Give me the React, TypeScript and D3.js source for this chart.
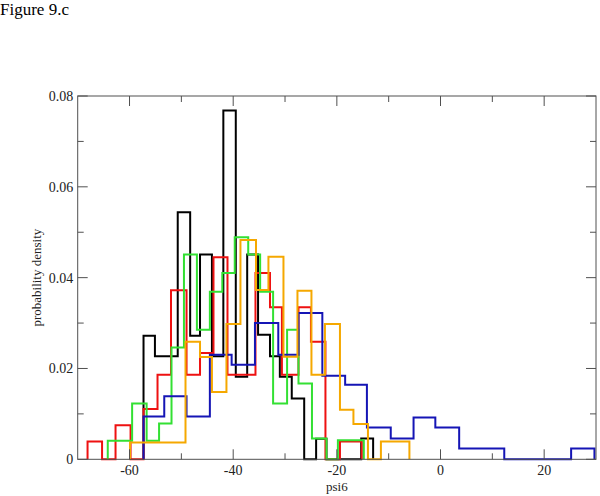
import React, { useEffect, useRef } from 'react'
import * as d3 from 'd3'

// bin edges (psi6) and probability density per bin
const blackEdges = [-57.3, -55.1, -50.7, -48.3, -46.4, -44.1, -41.9, -39.5, -37.3, -35.2, -32.9, -31.0, -28.7, -26.3, -24.0, -22.0, -15.3, -13.0]
const blackDensity = [0.0272, 0.0227, 0.0544, 0.0272, 0.0451, 0.0227, 0.0768, 0.0182, 0.0451, 0.0274, 0.0227, 0.0182, 0.0134, 0, 0.0045, 0, 0.0046]

const redEdges = [-68.1, -65.3, -62.7, -59.8, -57.3, -54.6, -52.0, -49.0, -46.4, -43.8, -41.1, -38.4, -35.7, -32.9, -30.6, -27.4, -25.0, -22.2, -19.4, -15.2]
const redDensity = [0.0039, 0, 0.0075, 0, 0.0111, 0.0186, 0.0372, 0.0186, 0.0234, 0.0445, 0.0186, 0.0186, 0.041, 0.0335, 0.0186, 0.0335, 0.0259, 0, 0.0039]

const greenEdges = [-64.2, -59.5, -56.7, -54.3, -51.9, -49.5, -47.0, -44.5, -42.1, -39.7, -37.1, -34.8, -32.3, -29.6, -27.4, -24.8, -22.0, -19.8, -14.8]
const greenDensity = [0.0041, 0.0123, 0.0041, 0.0079, 0.0246, 0.0451, 0.0285, 0.0369, 0.041, 0.0489, 0.0451, 0.0369, 0.0123, 0.0285, 0.0167, 0.0046, 0, 0.0042]

const blueEdges = [-57.3, -53.3, -49.0, -44.5, -40.3, -35.8, -31.3, -27.4, -22.8, -18.4, -14.2, -9.6, -5.2, -1.0, 3.6, 12.3, 25.2, 29.7]
const blueDensity = [0.0094, 0.0139, 0.0094, 0.023, 0.0208, 0.030, 0.023, 0.0322, 0.0184, 0.0164, 0.007, 0.0046, 0.0092, 0.007, 0.0024, 0, 0.0024]

const orangeEdges = [-59.9, -49.2, -46.4, -44.1, -41.3, -38.6, -35.6, -33.2, -30.3, -27.6, -24.9, -22.3, -19.4, -16.8, -14.0, -11.5, -6.0]
const orangeDensity = [0.0037, 0.0259, 0.0225, 0.0148, 0.0298, 0.0483, 0.0373, 0.0446, 0.0226, 0.0371, 0.0186, 0.0298, 0.0109, 0.0078, 0, 0.0039]

const xMajor = [-60, -40, -20, 0, 20]
const xMinor = [-50, -30, -10, 10]
const yMajor = [0, 0.02, 0.04, 0.06, 0.08]
const yMinor = [0.01, 0.03, 0.05, 0.07]

const series = [
    { edges: blackEdges, density: blackDensity, color: '#000000' },
    { edges: redEdges, density: redDensity, color: '#ee1111' },
    { edges: greenEdges, density: greenDensity, color: '#33e033' },
    { edges: blueEdges, density: blueDensity, color: '#1515b5' },
    { edges: orangeEdges, density: orangeDensity, color: '#f5a800' },
]

const App = () => {
    const ref = useRef<SVGSVGElement>(null)

    useEffect(() => {
        const width = 600
        const height = 496
        const marginLeft = 77.7
        const marginRight = 4
        const marginTop = 96
        const marginBottom = 36.7
        const font = '"Liberation Serif", "Times New Roman", serif'
        const frame = '#505050'

        const svg = d3.select(ref.current)
        svg.selectAll('*').remove()

        const xScale = d3.scaleLinear()
            .domain([-70, 30])
            .range([marginLeft, width - marginRight])

        const yScale = d3.scaleLinear()
            .domain([0, 0.08])
            .range([height - marginBottom, marginTop])

        svg.append('text')
            .attr('x', 0)
            .attr('y', 15)
            .attr('font-family', font)
            .attr('font-size', 17)
            .text('Figure 9.c')

        // histograms as step outlines
        const line = d3.line<[number, number]>()
            .x(d => xScale(d[0]))
            .y(d => yScale(d[1]))

        series.forEach(s => {
            const pts: [number, number][] = [[s.edges[0], 0]]
            s.density.forEach((v, i) => {
                pts.push([s.edges[i], v])
                pts.push([s.edges[i + 1], v])
            })
            pts.push([s.edges[s.edges.length - 1], 0])
            svg.append('path')
                .attr('d', line(pts))
                .attr('fill', 'none')
                .attr('stroke', s.color)
                .attr('stroke-width', 2)
                .attr('stroke-linejoin', 'miter')
        })

        // frame with inward ticks on all four sides
        const x0 = xScale.range()[0], x1 = xScale.range()[1]
        const y0 = yScale.range()[0], y1 = yScale.range()[1]

        svg.append('rect')
            .attr('x', x0)
            .attr('y', y1)
            .attr('width', x1 - x0)
            .attr('height', y0 - y1)
            .attr('fill', 'none')
            .attr('stroke', frame)
            .attr('stroke-width', 1)

        const ticks = svg.append('g').attr('stroke', frame).attr('stroke-width', 1)
        const xt = [...xMajor.map(v => ({ v, len: 10 })), ...xMinor.map(v => ({ v, len: 6 }))]
        xt.forEach(t => {
            const px = xScale(t.v)
            ticks.append('line').attr('x1', px).attr('x2', px).attr('y1', y0).attr('y2', y0 - t.len)
            ticks.append('line').attr('x1', px).attr('x2', px).attr('y1', y1).attr('y2', y1 + t.len)
        })
        const yt = [...yMajor.map(v => ({ v, len: 10 })), ...yMinor.map(v => ({ v, len: 6 }))]
        yt.forEach(t => {
            const py = yScale(t.v)
            ticks.append('line').attr('x1', x0).attr('x2', x0 + t.len).attr('y1', py).attr('y2', py)
            ticks.append('line').attr('x1', x1).attr('x2', x1 - t.len).attr('y1', py).attr('y2', py)
        })

        svg.append('g')
            .selectAll('text')
            .data(xMajor)
            .join('text')
            .attr('x', d => xScale(d))
            .attr('y', y0 + 15.5)
            .attr('text-anchor', 'middle')
            .attr('font-family', font)
            .attr('font-size', 14)
            .attr('fill', '#222')
            .text(d => String(d))

        svg.append('g')
            .selectAll('text')
            .data(yMajor)
            .join('text')
            .attr('x', x0 - 4.5)
            .attr('y', d => yScale(d))
            .attr('dy', '0.35em')
            .attr('text-anchor', 'end')
            .attr('font-family', font)
            .attr('font-size', 14)
            .attr('fill', '#222')
            .text(d => (d === 0 ? '0' : d.toFixed(2)))

        svg.append('text')
            .attr('x', (x0 + x1) / 2)
            .attr('y', 490.5)
            .attr('text-anchor', 'middle')
            .attr('font-family', font)
            .attr('font-size', 13)
            .attr('fill', '#222')
            .text('psi6')

        svg.append('text')
            .attr('transform', `translate(40.5, ${(y0 + y1) / 2}) rotate(-90)`)
            .attr('text-anchor', 'middle')
            .attr('font-family', font)
            .attr('font-size', 13)
            .attr('fill', '#222')
            .text('probability density')
    }, [])

    return (
        <svg ref={ref} width={600} height={496}
            style={{ position: 'absolute', left: 0, top: 0, background: '#fff' }} />
    )
}

export default App
